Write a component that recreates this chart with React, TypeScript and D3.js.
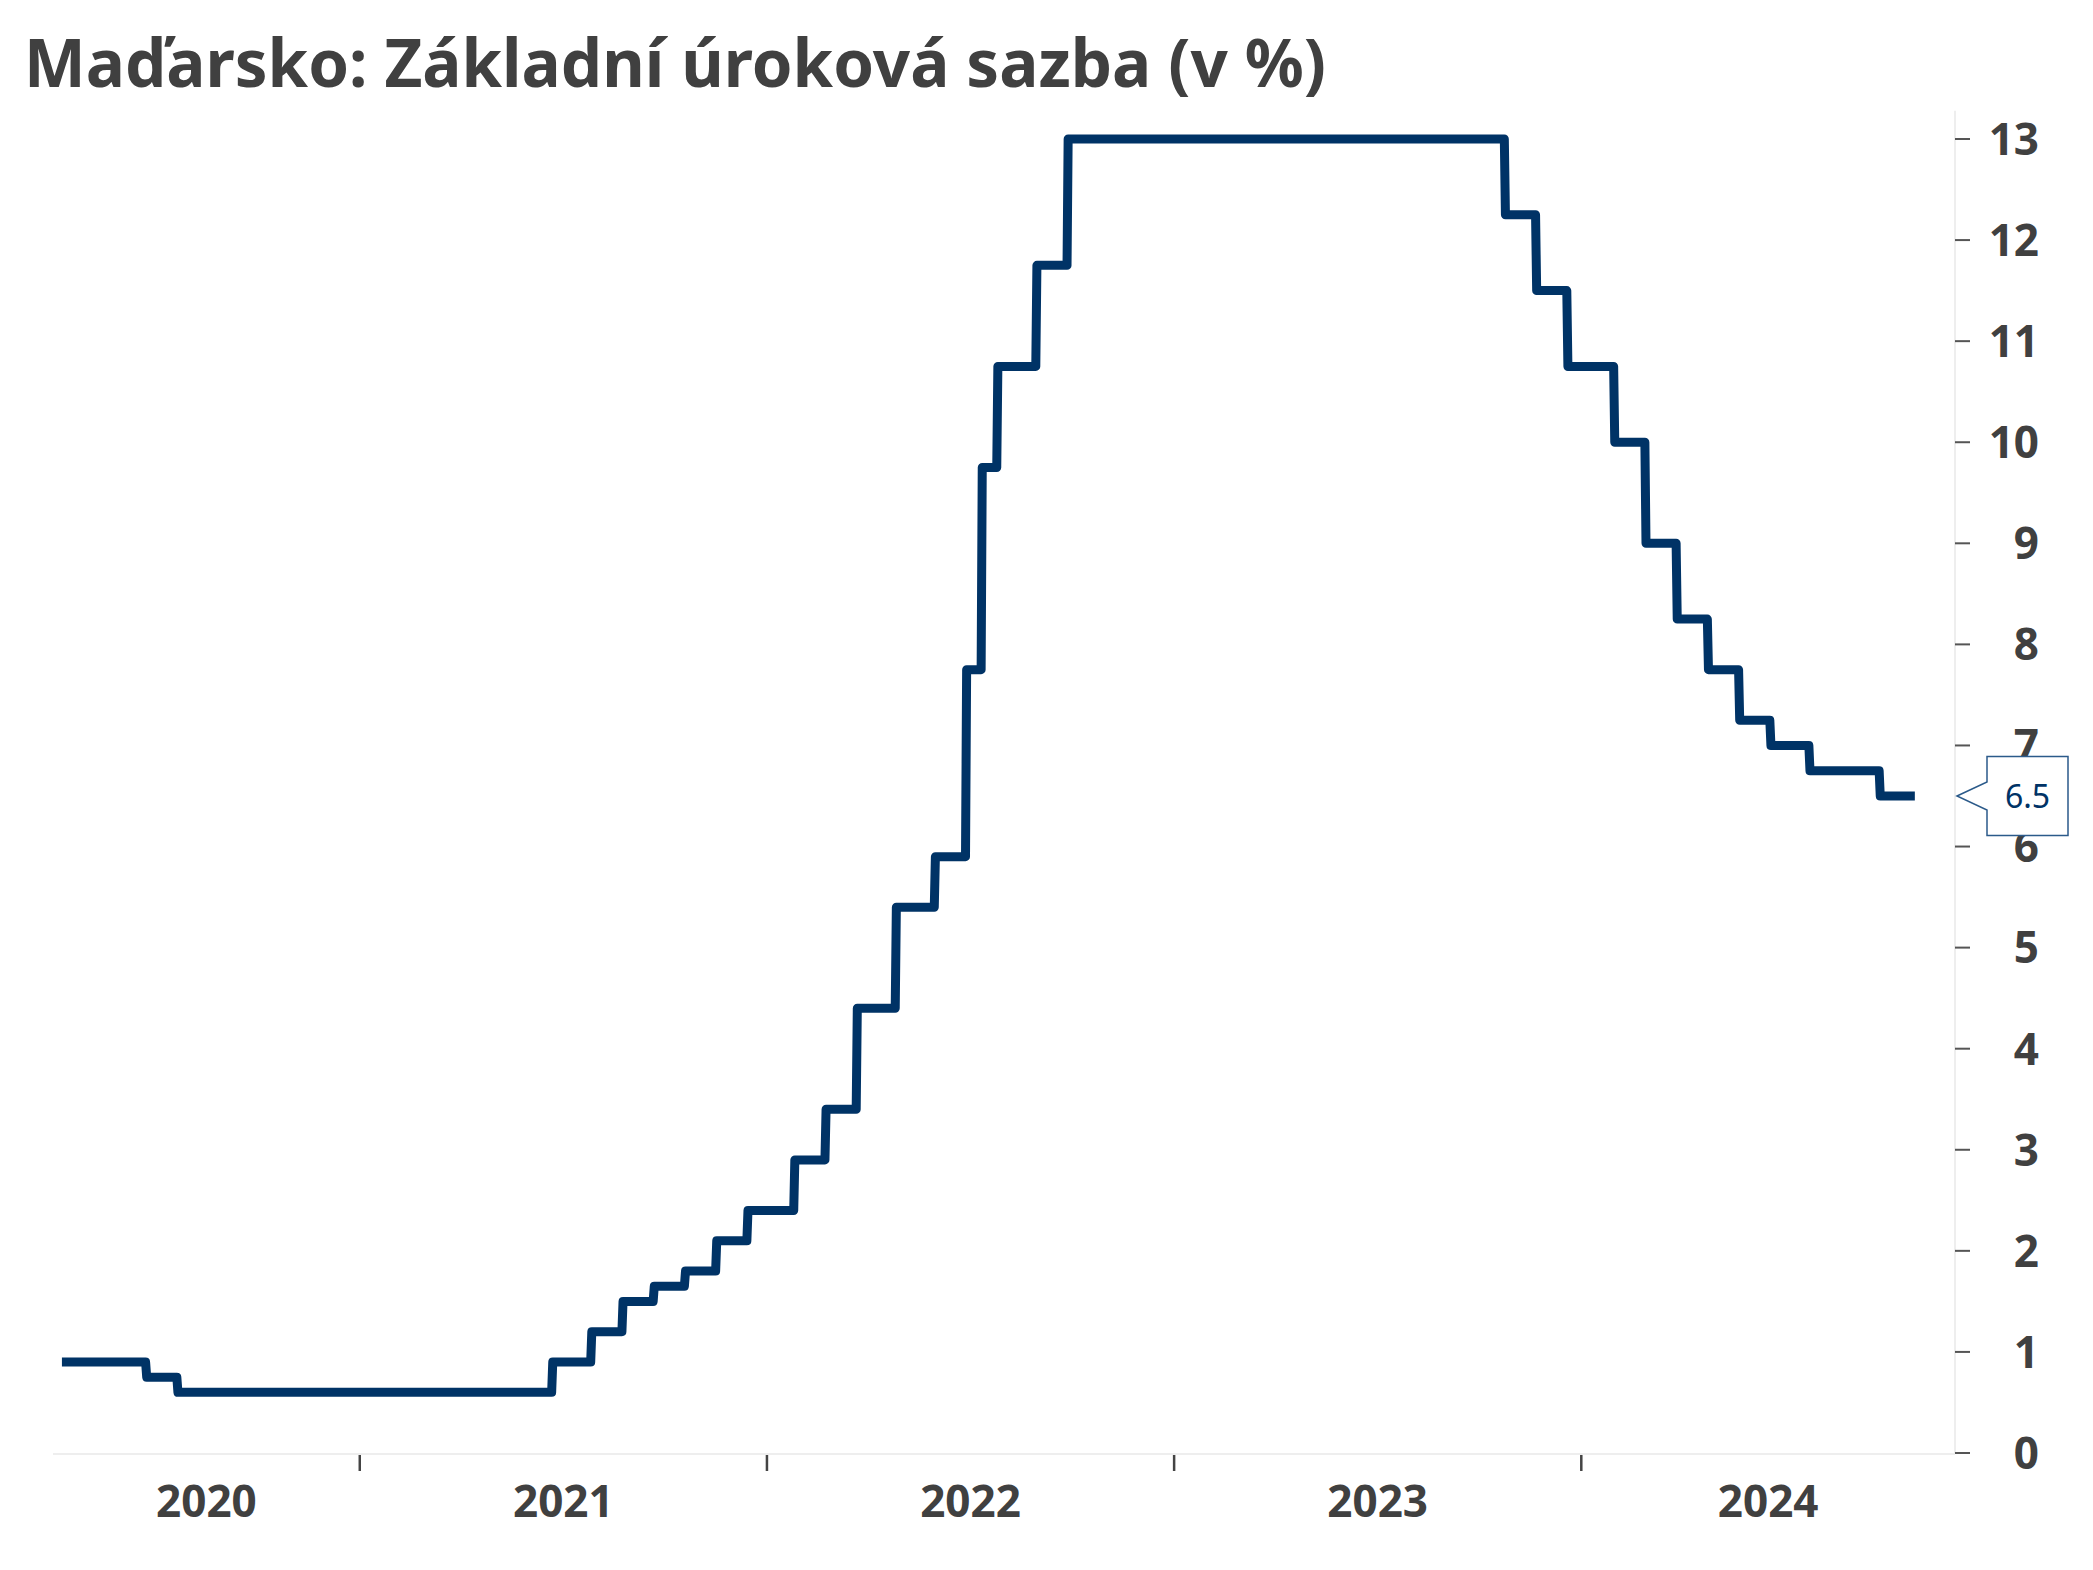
import React from "react";
import * as d3 from "d3";

const title = "Maďarsko: Základní úroková sazba (v %)";

// effective dates of base-rate changes (daily series, step values)
const changeDates = [
  "2020-04-09", "2020-06-24", "2020-07-22", "2021-06-23", "2021-07-28", "2021-08-25",
  "2021-09-22", "2021-10-20", "2021-11-17", "2021-12-15", "2022-01-26", "2022-02-23",
  "2022-03-23", "2022-04-27", "2022-06-01", "2022-06-29", "2022-07-13", "2022-07-27",
  "2022-08-31", "2022-09-28", "2023-10-25", "2023-11-22", "2023-12-20", "2024-01-31",
  "2024-02-28", "2024-03-27", "2024-04-24", "2024-05-22", "2024-06-19", "2024-07-24",
  "2024-09-25",
];
const rates = [
  0.9, 0.75, 0.6, 0.9, 1.2, 1.5,
  1.65, 1.8, 2.1, 2.4, 2.9, 3.4,
  4.4, 5.4, 5.9, 7.75, 9.75, 10.75,
  11.75, 13, 12.25, 11.5, 10.75, 10,
  9, 8.25, 7.75, 7.25, 7.0, 6.75,
  6.5,
];
const lastDate = "2024-10-26";
const lastValueLabel = "6.5";

const yTicks = [0, 1, 2, 3, 4, 5, 6, 7, 8, 9, 10, 11, 12, 13];
const yearLabels = ["2020", "2021", "2022", "2023", "2024"];
const domainStart = "2020-04-01";
const domainEnd = "2024-12-01";

const W = 2093;
const H = 1570;
const LEFT = 53;
const RIGHT = 1955;
const TOP = 139;
const BOTTOM = 1453;

const LINE = "#003366";
const TEXT = "#404040";
const FONT = "'Noto Sans', 'Open Sans', sans-serif";

export default function App() {
  const parse = d3.utcParse("%Y-%m-%d");
  const x = d3.scaleUtc().domain([parse(domainStart)!, parse(domainEnd)!]).range([LEFT, RIGHT]);
  const y = d3.scaleLinear().domain([0, 13]).range([BOTTOM, TOP]);

  // daily series: each level holds from its change date to the day before the next change
  const pts: [Date, number][] = [];
  changeDates.forEach((ds, i) => {
    const d = parse(ds)!;
    const end = i < changeDates.length - 1 ? d3.utcDay.offset(parse(changeDates[i + 1])!, -1) : parse(lastDate)!;
    pts.push([d, rates[i]]);
    pts.push([end, rates[i]]);
  });
  const line = d3
    .line<[Date, number]>()
    .x((d) => x(d[0]))
    .y((d) => y(d[1]));

  const yearStarts = yearLabels.slice(1).map((yy) => parse(`${yy}-01-01`)!);
  const bounds = [LEFT, ...yearStarts.map((d) => x(d)), RIGHT];

  const lastY = y(rates[rates.length - 1]);
  const tipX = RIGHT + 2;
  const bx0 = 1987;
  const bx1 = 2068;
  const bh = 79;
  const calloutPath = `M${tipX},${lastY} L${bx0},${lastY - 14} L${bx0},${lastY - bh / 2} L${bx1},${lastY - bh / 2} L${bx1},${lastY + bh / 2} L${bx0},${lastY + bh / 2} L${bx0},${lastY + 14} Z`;

  return (
    <svg
      width={W}
      height={H}
      style={{ position: "absolute", left: 0, top: 0, background: "#fff" }}
      fontFamily={FONT}
    >
      <rect x={0} y={0} width={W} height={H} fill="#fff" />
      <text x={24} y={87} fontSize={66} fontWeight={700} fill={TEXT} textLength={1302} lengthAdjust="spacingAndGlyphs">
        {title}
      </text>

      {/* axes lines */}
      <line x1={LEFT} x2={RIGHT} y1={BOTTOM + 1} y2={BOTTOM + 1} stroke="#eeeeee" strokeWidth={2} />
      <line x1={RIGHT} x2={RIGHT} y1={y(13.28)} y2={BOTTOM + 1} stroke="#eeeeee" strokeWidth={2} />

      {/* x ticks at year boundaries */}
      {yearStarts.map((d, i) => (
        <line key={i} x1={x(d)} x2={x(d)} y1={BOTTOM + 2} y2={BOTTOM + 18} stroke="#444" strokeWidth={2.5} />
      ))}
      {yearLabels.map((lab, i) => (
        <text
          key={lab}
          x={(bounds[i] + bounds[i + 1]) / 2}
          y={1517}
          textAnchor="middle"
          fontSize={44}
          fontWeight={700}
          fill={TEXT}
        >
          {lab}
        </text>
      ))}

      {/* y ticks */}
      {yTicks.map((t) => (
        <g key={t}>
          <line x1={RIGHT} x2={RIGHT + 15} y1={y(t)} y2={y(t)} stroke="#555" strokeWidth={2} />
          <text x={2039} y={y(t)} dy="0.36em" textAnchor="end" fontSize={44} fontWeight={700} fill={TEXT}>
            {t}
          </text>
        </g>
      ))}

      {/* series */}
      <path d={line(pts) || ""} fill="none" stroke={LINE} strokeWidth={9} strokeLinejoin="round" strokeLinecap="butt" />

      {/* last value callout */}
      <path d={calloutPath} fill="#fff" stroke="#2b5a8a" strokeWidth={1.5} />
      <text x={(bx0 + bx1) / 2} y={lastY} dy="0.36em" textAnchor="middle" fontSize={32} fill={LINE}>
        {lastValueLabel}
      </text>
    </svg>
  );
}
